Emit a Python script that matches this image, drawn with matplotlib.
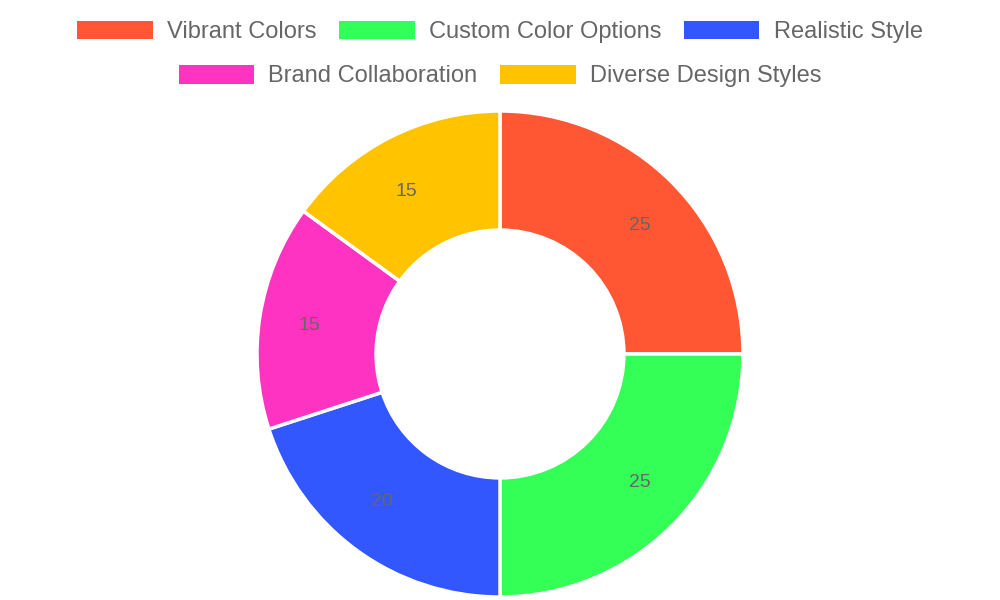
import matplotlib.pyplot as plt
from matplotlib.patches import Patch

categories = ['Vibrant Colors', 'Custom Color Options', 'Realistic Style',
              'Brand Collaboration', 'Diverse Design Styles']
values = [25, 25, 20, 15, 15]
colors = ['#FF5733', '#33FF57', '#3357FF', '#FF33C1', '#FFC300']

plt.rcParams['font.family'] = ['Liberation Sans', 'DejaVu Sans']

fig = plt.figure(figsize=(10, 6), dpi=100)
ax = fig.add_axes([0.257, 0.005, 0.486, 0.81])
wedges, texts = ax.pie(values, colors=colors, startangle=90, counterclock=False,
                       labels=[str(v) for v in values], labeldistance=0.75,
                       radius=1.0, frame=False,
                       wedgeprops=dict(width=0.49, edgecolor='white', linewidth=2.5),
                       textprops=dict(color='#666666', fontsize=14))
ax.set_xlim(-1.0, 1.0)
ax.set_ylim(-1.0, 1.0)
ax.set_aspect('equal')
ax.axis('off')

handles = [Patch(facecolor=c, label=l) for c, l in zip(colors, categories)]
for row, y in ((handles[:3], 0.947), (handles[3:], 0.873)):
    fig.legend(handles=row, loc='center', bbox_to_anchor=(0.5, y), ncol=len(row),
               frameon=False, fontsize=17, labelcolor='#666666',
               handlelength=3.2, handleheight=0.85, handletextpad=0.6,
               columnspacing=0.95)

fig.savefig('out.png', dpi=100)
